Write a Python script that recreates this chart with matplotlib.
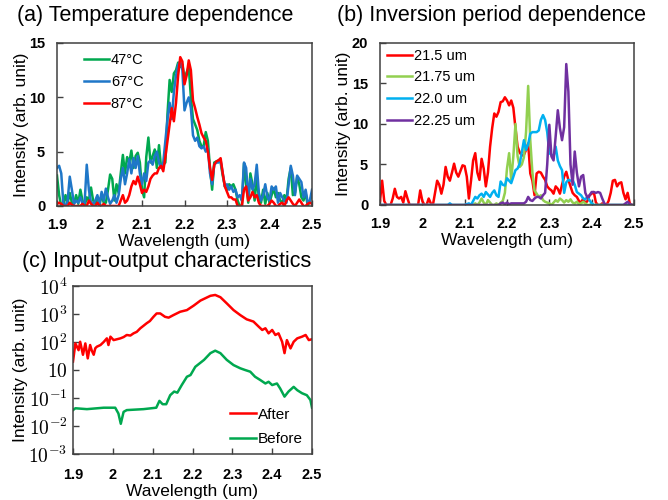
import numpy as np
import matplotlib
matplotlib.use("Agg")
import matplotlib.pyplot as plt

plt.rcParams['font.family'] = ['Liberation Sans', 'DejaVu Sans']
plt.rcParams['mathtext.fontset'] = 'cm'

# wavelength grid of panels (a) and (b), um
wl = np.round(np.arange(1.9, 2.5001, 0.005), 3)

# (a) temperature dependence
t47 = [2.8, 1.0, 0.0, 0.0, 1.0, 0.3, 1.2, 0.3, 0.2, 1.0,
       0.2, 1.5, 0.5, 0.0, 0.8, 0.5, 1.7, 0.5, 0.2, 0.8,
       0.2, 1.0, 0.3, 0.3, 1.5, 2.9, 2.5, 0.5, 2.0, 1.2,
       3.0, 4.7, 3.0, 4.5, 4.0, 5.1, 3.5, 4.6, 4.9, 4.0,
       1.5, 0.8, 4.5, 6.3, 4.0, 4.6, 5.2, 3.5, 5.6, 3.5,
       3.8, 4.0, 8.5, 11.6, 10.5, 12.2, 12.5, 13.2, 12.8, 13.0,
       11.8, 12.3, 12.8, 10.0, 8.0, 7.5, 7.0, 6.0, 5.5, 5.5,
       6.8, 6.0, 3.5, 1.5, 4.0, 4.1, 4.2, 4.0, 2.8, 1.8,
       1.5, 2.0, 1.8, 2.0, 1.5, 0.5, 0.0, 0.0, 3.9, 2.0,
       0.3, 3.0, 2.0, 0.5, 2.6, 0.8, 0.3, 1.5, 0.2, 1.2,
       0.3, 1.0, 1.6, 0.8, 1.2, 0.5, 0.3, 1.0, 0.5, 2.5,
       3.5, 1.0, 1.2, 2.7, 2.0, 0.8, 0.5, 1.2, 0.0, 0.5,
       1.0]
t67 = [3.5, 3.7, 3.0, 0.2, 0.0, 0.5, 2.7, 1.5, 0.2, 0.5,
       0.3, 0.8, 0.2, 0.3, 3.8, 1.5, 0.3, 0.2, 0.5, 1.0,
       0.2, 1.3, 0.5, 1.6, 0.8, 0.2, 0.5, 1.0, 0.3, 1.0,
       2.5, 3.5, 2.0, 3.0, 4.3, 3.0, 4.4, 3.5, 4.6, 3.0,
       2.0, 3.0, 2.3, 4.0, 4.2, 3.8, 4.6, 5.0, 4.0, 3.5,
       4.0, 6.0, 8.0, 9.5, 8.0, 10.5, 12.0, 13.0, 13.3, 12.5,
       8.8, 9.5, 10.0, 9.0, 6.5, 6.0, 6.3, 5.5, 5.3, 5.5,
       5.0, 5.3, 3.0, 2.0, 3.8, 4.0, 4.0, 4.2, 3.0, 1.8,
       2.0, 1.5, 1.8, 1.3, 1.5, 0.8, 1.0, 0.5, 4.0, 3.5,
       0.8, 2.5, 1.5, 2.0, 3.8, 1.2, 0.5, 1.0, 2.0, 0.8,
       0.5, 1.8, 1.5, 1.8, 0.3, 1.2, 0.8, 0.5, 0.3, 2.0,
       3.7, 2.8, 1.0, 2.8, 2.5, 2.2, 0.8, 1.5, 0.3, 0.5,
       1.5]
t87 = [0.2, 0.3, 0.2, 0.0, 0.0, 0.0, 0.3, 0.1, 0.0, 0.0,
       0.0, 0.0, 0.2, 0.0, 0.0, 0.5, 0.2, 0.0, 0.0, 0.3,
       0.0, 0.0, 0.2, 0.0, 0.0, 0.0, 0.0, 0.0, 0.0, 0.0,
       0.5, 1.0, 0.3, 0.5, 1.0, 1.8, 2.3, 2.0, 2.7, 2.0,
       1.2, 1.5, 1.3, 1.8, 2.5, 2.8, 3.0, 3.0, 3.5, 3.7,
       3.2, 4.5, 6.0, 7.5, 9.0, 7.8, 9.5, 12.0, 13.7, 13.3,
       11.2, 12.0, 13.4, 12.5, 9.7, 9.0, 8.2, 7.5, 6.7, 6.3,
       6.0, 5.0, 3.5, 2.4, 3.8, 4.1, 4.2, 4.4, 3.0, 1.8,
       1.3, 0.8, 0.8, 0.6, 0.6, 0.0, 0.0, 0.0, 1.5, 1.8,
       0.5, 0.8, 1.3, 0.8, 1.0, 0.3, 0.0, 0.0, 0.0, 0.0,
       0.2, 0.5, 0.3, 0.0, 0.0, 0.2, 0.3, 0.0, 0.5, 0.8,
       0.5, 0.2, 0.0, 0.3, 0.6, 0.3, 0.0, 0.0, 0.2, 0.3,
       0.2]

# (b) inversion period dependence
p2150 = [0.5, 3.0, 0.5, 0.0, 0.0, 0.0, 0.8, 2.0, 1.0, 0.8,
         1.0, 0.3, 1.7, 0.8, 0.0, 0.0, 0.0, 0.0, 0.0, 1.8,
         0.5, 0.0, 0.0, 0.8, 0.2, 0.0, 1.5, 3.0, 2.5, 1.4,
         2.5, 4.7, 3.5, 3.0, 4.0, 5.1, 4.0, 3.5, 4.2, 4.9,
         4.8, 3.5, 0.8, 3.0, 5.5, 6.4, 4.0, 3.1, 5.7, 4.5,
         2.3, 4.0, 7.2, 9.5, 11.3, 10.9, 11.5, 12.7, 12.8, 13.3,
         12.9, 12.3, 12.9, 12.0, 9.5, 7.2, 6.5, 6.1, 6.2, 6.8,
         7.6, 3.9, 3.0, 1.2, 3.9, 4.1, 4.0, 3.5, 3.1, 2.3,
         2.0, 1.8, 1.4, 2.3, 2.0, 1.4, 2.5, 3.5, 4.1, 3.1,
         2.3, 1.5, 1.2, 1.0, 0.5, 0.3, 0.8, 0.2, 0.5, 1.2,
         1.4, 1.6, 0.3, 0.0, 0.0, 0.2, 0.0, 0.0, 0.5, 1.5,
         3.0, 3.1, 2.3, 2.7, 2.8, 1.5, 0.7, 1.5, 0.2, 0.0,
         0.0]
p2175 = [0.0] * 44 + [
         0.0, 0.2, 0.0, 0.3, 0.8, 0.3, 0.0, 0.6, 0.3, 0.0,
         0.0, 0.2, 0.0, 0.3, 0.5, 1.5, 4.5, 6.4, 3.1, 6.0,
         10.0, 6.0, 4.7, 5.0, 5.9, 9.0, 14.7, 8.0, 4.0, 1.8,
         1.4, 1.0, 1.2, 0.6, 0.4, 0.3, 0.2, 0.0, 0.3, 0.6,
         0.4, 0.8, 0.6, 0.3, 0.6, 0.4, 0.7, 0.3, 0.2, 0.4,
         0.1, 0.2, 0.4, 0.2, 0.0, 0.0, 0.2, 0.0, 0.0, 0.0,
         0.0, 0.0, 0.0, 0.0, 0.0, 0.0, 0.0, 0.0, 0.0, 0.0,
         0.0, 0.0, 0.0, 0.0, 0.0, 0.0, 0.0]
p2200 = [0.0] * 30 + [
         0.0, 0.0, 0.0, 0.2, 0.0, 0.0, 0.0, 0.0, 0.0, 0.0,
         0.0, 0.1, 0.2, 0.0,
         0.5, 1.0, 0.8, 1.2, 1.4, 1.0, 1.6, 1.3, 1.0, 1.5,
         1.8, 1.2, 1.0, 2.9, 2.5, 2.4, 3.3, 3.0, 2.7, 3.5,
         4.3, 4.5, 5.1, 6.5, 8.0, 6.8, 7.5, 8.8, 9.0, 9.0,
         9.0, 9.2, 10.5, 11.1, 10.5, 9.0, 6.4, 6.2, 6.0, 7.2,
         5.5, 4.8, 4.3, 1.5, 2.8, 3.1, 3.0, 3.1, 2.5, 1.6,
         1.4, 1.2, 0.8, 0.7, 1.0, 0.6, 0.2, 0.0, 0.0, 0.0,
         0.0, 0.0, 0.0, 0.0, 0.0, 0.0, 0.0, 0.0, 0.0, 0.0,
         0.0, 0.0, 0.0, 0.0, 0.0, 0.0, 0.0]
p2225 = [0.0] * 57 + [
         0.2, 0.3, 0.1, 0.3, 0.1, 0.2, 0.2, 0.2, 0.2, 0.2,
         0.2, 0.2, 0.4, 1.0, 0.6, 0.5, 0.8, 1.0, 1.0, 0.8,
         1.2, 1.5, 5.0, 9.9, 6.0, 5.5, 8.5, 11.7, 9.5, 8.0,
         9.6, 17.4, 14.0, 5.0, 2.5, 6.6, 4.0, 2.3, 3.5, 3.7,
         1.5, 0.9, 1.2, 1.6, 1.6, 1.5, 1.6, 1.5, 0.8, 0.2,
         0.0, 0.0, 0.0, 0.0, 0.0, 0.0, 0.0, 0.0, 0.0, 0.2,
         0.4, 0.1, 0.0, 0.0]

# (c) input-output characteristics
after_wl = [1.900, 1.906, 1.914, 1.918, 1.925, 1.931, 1.937, 1.943, 1.947, 1.952,
            1.956, 1.960, 1.969, 1.977, 1.985, 1.989, 1.994, 2.002, 2.010, 2.019,
            2.027, 2.035, 2.044, 2.052, 2.060, 2.069, 2.077, 2.085, 2.093, 2.102,
            2.110, 2.119, 2.131, 2.140, 2.152, 2.169, 2.186, 2.203, 2.220, 2.245,
            2.257, 2.270, 2.286, 2.303, 2.320, 2.336, 2.353, 2.366, 2.375, 2.383,
            2.391, 2.400, 2.408, 2.416, 2.425, 2.431, 2.437, 2.446, 2.454, 2.463,
            2.475, 2.484, 2.492, 2.500]
after = [20, 89, 51, 102, 35, 89, 26, 78, 50, 35,
         60, 68, 78, 100, 135, 78, 155, 117, 125, 135,
         150, 178, 170, 204, 230, 309, 380, 468, 560, 794,
         1047, 1047, 794, 741, 912, 1202, 1380, 1995, 3020, 4467,
         4786, 3981, 2399, 1380, 912, 646, 537, 355, 269, 309,
         204, 269, 178, 204, 102, 40, 117, 59, 102, 135,
         155, 178, 117, 126]
before_wl = [1.900, 1.906, 1.935, 1.977, 2.006, 2.014, 2.020, 2.027, 2.035, 2.077,
             2.109, 2.117, 2.125, 2.134, 2.144, 2.154, 2.162, 2.173, 2.186, 2.195,
             2.207, 2.229, 2.245, 2.257, 2.270, 2.286, 2.303, 2.320, 2.332, 2.345,
             2.357, 2.370, 2.383, 2.391, 2.400, 2.412, 2.420, 2.431, 2.441, 2.454,
             2.463, 2.475, 2.487, 2.496, 2.500]
before = [0.37, 0.43, 0.40, 0.45, 0.45, 0.28, 0.12, 0.32, 0.37, 0.40,
          0.45, 0.79, 0.60, 0.60, 1.26, 1.70, 1.55, 2.9, 5.75, 6.6,
          13, 23, 40, 49, 40, 23, 15, 11.5, 10, 8.7,
          5.75, 4.4, 3.3, 3.8, 2.9, 3.3, 2.2, 1.12, 1.7, 2.5,
          1.9, 1.48, 1.26, 0.85, 0.45]

xticks = [1.9, 2.0, 2.1, 2.2, 2.3, 2.4, 2.5]
xticklabels = ['1.9', '2', '2.1', '2.2', '2.3', '2.4', '2.5']
logticks = [1e-2, 1e-1, 1, 10, 100, 1e3, 1e4]
logticklabels = ['$10^{-3}$', '$10^{-2}$', '$10^{-1}$', '$10$', '$10^{2}$', '$10^{3}$', '$10^{4}$']


def frame(ax, xpad, ypad, xlab_y):
    for s in ax.spines.values():
        s.set_color('#404040')
        s.set_linewidth(1.1)
    ax.tick_params(direction='in', length=4, width=1, color='#404040')
    ax.tick_params(axis='x', pad=xpad, labelsize=10.5)
    ax.tick_params(axis='y', pad=ypad, labelsize=10.5)
    ax.set_xlim(1.9, 2.5)
    ax.set_xticks(xticks)
    ax.set_xticklabels(xticklabels, fontweight='bold')
    ax.set_xlabel('Wavelength (um)', fontsize=12.5)
    ax.xaxis.set_label_coords(0.5, xlab_y)
    ax.xaxis.label.set_va('center')
    ax.set_ylabel('Intensity (arb. unit)', fontsize=12.5)
    ax.yaxis.label.set_va('center')


fig = plt.figure(figsize=(6.68, 5.0), dpi=100)
lw = 1.8

# (a)
ax1 = fig.add_axes([57/668, 1-206/500, 255/668, 163/500])
ax1.plot(wl, t47, color='#00a84f', lw=lw, label='47°C')
ax1.plot(wl, t67, color='#1f77c8', lw=lw, label='67°C')
ax1.plot(wl, t87, color='#ff0000', lw=lw, label='87°C')
frame(ax1, 9, 8.5, -0.22)
ax1.set_ylim(0, 15)
ax1.set_yticks([0, 5, 10, 15])
ax1.set_yticklabels(['0', '5', '10', '15'], fontweight='bold')
ax1.yaxis.set_label_coords(-0.14, 0.5)
ax1.legend(loc='upper left', bbox_to_anchor=(0.105, 0.94), frameon=False, fontsize=10.5,
           handlelength=1.7, handletextpad=0.15, labelspacing=0.55, borderpad=0, borderaxespad=0)

# (b)
ax2 = fig.add_axes([380/668, 1-205/500, 254/668, 162/500])
ax2.plot(wl, p2150, color='#ff0000', lw=lw, label='21.5 um')
ax2.plot(wl, p2175, color='#92d050', lw=lw, label='21.75 um')
ax2.plot(wl, p2200, color='#00b0f0', lw=lw, label='22.0 um')
ax2.plot(wl, p2225, color='#7030a0', lw=lw, label='22.25 um')
frame(ax2, 9, 8.5, -0.22)
ax2.set_ylim(0, 20)
ax2.set_yticks([0, 5, 10, 15, 20])
ax2.set_yticklabels(['0', '5', '10', '15', '20'], fontweight='bold')
ax2.yaxis.set_label_coords(-0.145, 0.5)
ax2.legend(loc='upper left', bbox_to_anchor=(0.028, 0.965), frameon=False, fontsize=10.5,
           handlelength=1.7, handletextpad=0.15, labelspacing=0.53, borderpad=0, borderaxespad=0)

# (c)
ax3 = fig.add_axes([73/668, 1-454/500, 239/668, 168/500])
ax3.semilogy(after_wl, after, color='#ff0000', lw=lw, label='After')
ax3.semilogy(before_wl, before, color='#00a84f', lw=lw, label='Before')
frame(ax3, 10, 4, -0.222)
ax3.set_ylim(1e-2, 1e4)
ax3.set_yticks(logticks)
ax3.set_yticklabels(logticklabels, fontsize=14)
ax3.minorticks_off()
ax3.yaxis.set_label_coords(-0.218, 0.5)
ax3.legend(loc='upper left', bbox_to_anchor=(0.655, 0.276), frameon=False, fontsize=11,
           handlelength=1.7, handletextpad=0.15, labelspacing=0.7, borderpad=0, borderaxespad=0)

fig.text(17/668, 1-15/500, '(a) Temperature dependence', fontsize=15.5, va='center')
fig.text(337/668, 1-15/500, '(b) Inversion period dependence', fontsize=15.5, va='center')
fig.text(22/668, 1-262/500, '(c) Input-output characteristics', fontsize=15.5, va='center')

fig.savefig('out.png', dpi=100)
